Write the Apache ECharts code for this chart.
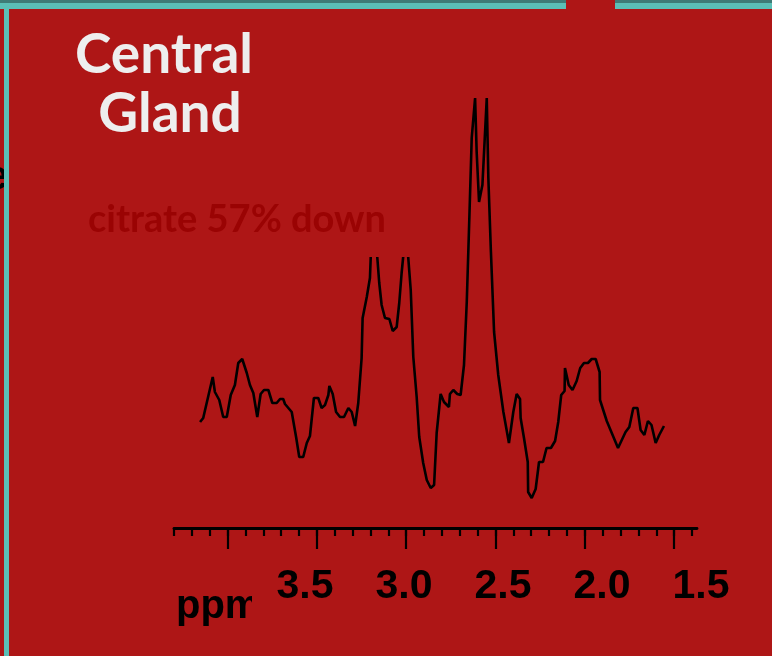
<!DOCTYPE html>
<html>
<head>
<meta charset="utf-8">
<title>Central Gland</title>
<script src="https://cdn.jsdelivr.net/npm/echarts@6/dist/echarts.min.js"></script>
<style>
  html, body { margin: 0; padding: 0; background: #ae1616; }
  #chart { width: 772px; height: 656px; }
</style>
</head>
<body>
<div id="chart"></div>
<script>
// chemical shift (ppm) of each sample of the trace
const shiftPpm = [
  4.030, 4.014, 3.966, 3.955, 3.933, 3.913, 3.895, 3.875, 3.854, 3.837,
  3.817, 3.794, 3.778, 3.761, 3.741, 3.724, 3.707, 3.685, 3.665, 3.643,
  3.626, 3.610, 3.601, 3.567, 3.545, 3.529, 3.509, 3.491, 3.475, 3.455,
  3.433, 3.416, 3.399, 3.382, 3.377, 3.360, 3.343, 3.323, 3.303, 3.281,
  3.264, 3.247, 3.231, 3.214, 3.209, 3.188, 3.172, 3.157, 3.125, 3.113,
  3.096, 3.074, 3.057, 3.037, 3.024, 3.012, 2.990, 2.966, 2.953, 2.936,
  2.923, 2.903, 2.885, 2.865, 2.848, 2.835, 2.815, 2.798, 2.773, 2.768,
  2.751, 2.731, 2.714, 2.697, 2.683, 2.670, 2.658, 2.641, 2.633, 2.621,
  2.604, 2.582, 2.574, 2.561, 2.545, 2.524, 2.498, 2.470, 2.448, 2.431,
  2.414, 2.411, 2.394, 2.375, 2.373, 2.355, 2.335, 2.318, 2.298, 2.280,
  2.258, 2.237, 2.221, 2.206, 2.189, 2.187, 2.168, 2.149, 2.128, 2.110,
  2.091, 2.071, 2.052, 2.032, 2.012, 2.010, 1.976, 1.919, 1.881, 1.862,
  1.842, 1.821, 1.805, 1.786, 1.768, 1.750, 1.729, 1.711, 1.687
]
// signal intensity (arbitrary units)
const signal = [
  106, 110, 151, 136, 128, 111, 111, 133, 143, 165,
  169, 155, 143, 135, 111, 134, 138, 138, 125, 125,
  129, 129, 124, 116, 91, 71, 71, 85, 92, 130,
  130, 120, 123, 133, 142, 134, 116, 111, 111, 120,
  116, 102, 125, 170, 210, 231, 250, 328, 245, 223,
  210, 209, 197, 201, 225, 255, 300, 238, 171, 131,
  91, 65, 48, 40, 43, 95, 134, 126, 121, 134,
  138, 134, 133, 163, 226, 310, 390, 430, 376, 326,
  343, 430, 350, 276, 196, 153, 116, 85, 116, 134,
  129, 110, 90, 66, 36, 30, 39, 66, 66, 80,
  80, 87, 106, 133, 137, 160, 143, 138, 147, 160,
  165, 165, 169, 169, 156, 128, 107, 80, 96, 101,
  120, 120, 98, 93, 107, 103, 85, 93, 102
]
const tickLabels = ['3.5', '3.0', '2.5', '2.0', '1.5']
// ruler ticks, in ruler steps
const minorTicks = [0, 1, 2, 3, 4, 5, 6, 7, 8, 9, 10, 11, 12, 13, 14, 15,
  16, 17, 18, 19, 20, 21, 22, 23, 24, 25, 26, 27, 28, 29]
const majorTicks = [3, 8, 13, 18, 23, 28]

const red = '#ae1616'
const teal = '#5bbfb6'
const labelFont = 'Liberation Sans, Arial, sans-serif'
const titleFont = 'Lato, sans-serif'

const myChart = echarts.init(document.getElementById('chart'))
const hidden = { show: false }

const option = {
  backgroundColor: red,
  animation: false,
  grid: [
    { left: 174, top: 88, width: 527, height: 440 }, // spectrum, 1.5 ppm on the right edge
    { left: 174, top: 88, width: 523, height: 440 }, // ruler, minor ticks
    { left: 174, top: 88, width: 523, height: 440 }  // ruler, major ticks
  ],
  xAxis: [
    {
      type: 'value',
      gridIndex: 0,
      inverse: true,
      min: 1.5,
      max: 4.1616,
      axisLine: hidden,
      axisTick: hidden,
      splitLine: hidden,
      axisLabel: {
        customValues: tickLabels.map(Number),
        formatter: v => v.toFixed(1),
        color: '#000',
        fontFamily: labelFont,
        fontWeight: 'bold',
        fontSize: 41,
        lineHeight: 41,
        margin: 38
      }
    },
    {
      type: 'value',
      gridIndex: 1,
      min: 0,
      max: 29.28,
      axisLine: { lineStyle: { color: '#000', width: 2.8 } },
      axisTick: { customValues: minorTicks, length: 8, lineStyle: { color: '#000', width: 2.2 } },
      axisLabel: hidden,
      splitLine: hidden
    },
    {
      type: 'value',
      gridIndex: 2,
      min: 0,
      max: 29.28,
      axisLine: hidden,
      axisTick: { customValues: majorTicks, length: 21, lineStyle: { color: '#000', width: 2.2 } },
      axisLabel: hidden,
      splitLine: hidden
    }
  ],
  yAxis: [0, 1, 2].map(i => ({ type: 'value', gridIndex: i, min: 0, max: 440, show: false })),
  series: [
    {
      type: 'line',
      xAxisIndex: 0,
      yAxisIndex: 0,
      data: shiftPpm.map((x, i) => [x, signal[i]]),
      symbol: 'none',
      lineStyle: { color: '#000', width: 2.6 },
      z: 2
    }
  ],
  graphic: [
    // slide frame
    { type: 'rect', shape: { x: 0, y: 0, width: 772, height: 3 }, style: { fill: '#3e7c76' }, z: 40 },
    { type: 'rect', shape: { x: 0, y: 3, width: 772, height: 6 }, style: { fill: teal }, z: 40 },
    { type: 'rect', shape: { x: 4, y: 3, width: 5, height: 653 }, style: { fill: teal }, z: 40 },
    { type: 'rect', shape: { x: 566, y: 0, width: 49, height: 10 }, style: { fill: red }, z: 41 },
    { type: 'text', x: -14, y: 178, style: { text: 'e', fill: '#000', font: 'bold 40px ' + labelFont, verticalAlign: 'middle' }, z: 39 },
    // text box covering the tops of the choline / creatine peaks
    { type: 'rect', shape: { x: 80, y: 180, width: 360, height: 77 }, style: { fill: red }, z: 50 },
    { type: 'text', x: 88, y: 220, style: { text: 'citrate 57% down', fill: '#9a0303', font: 'bold 38px ' + titleFont, verticalAlign: 'middle' }, z: 60 },
    // panel title
    { type: 'text', x: 164, y: 55, style: { text: 'Central', fill: '#eeeeee', font: 'bold 55px ' + titleFont, align: 'center', verticalAlign: 'middle' }, z: 60 },
    { type: 'text', x: 170, y: 114, style: { text: 'Gland', fill: '#eeeeee', font: 'bold 55px ' + titleFont, align: 'center', verticalAlign: 'middle' }, z: 60 },
    // axis unit, right part of the "m" hidden
    { type: 'text', x: 176, y: 607, style: { text: 'ppm', fill: '#000', font: 'bold 40px ' + labelFont, verticalAlign: 'middle' }, z: 60 },
    { type: 'rect', shape: { x: 252, y: 580, width: 20, height: 55 }, style: { fill: red }, z: 61 }
  ]
}

option && myChart.setOption(option)
</script>
</body>
</html>
